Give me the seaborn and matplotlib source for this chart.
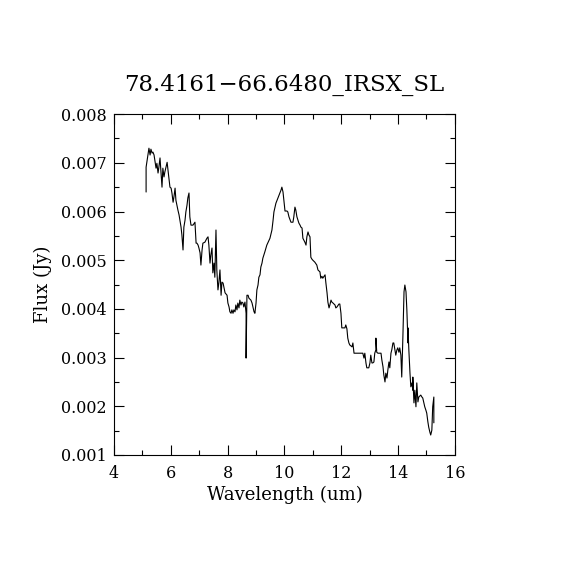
import numpy as np
import pandas as pd
import matplotlib
matplotlib.use("Agg")
import matplotlib.pyplot as plt
import seaborn as sns
from matplotlib.ticker import MultipleLocator

# Spectrum
wavelength = [
    5.13, 5.13, 5.23, 5.27, 5.30, 5.34, 5.37, 5.41, 5.48, 5.51, 5.55, 5.58,
    5.62, 5.65, 5.69, 5.72, 5.76, 5.79, 5.83, 5.87, 5.90, 5.94, 5.97, 6.01,
    6.04, 6.08, 6.11, 6.15, 6.18, 6.25, 6.29, 6.32, 6.36, 6.39, 6.43, 6.46,
    6.50, 6.53, 6.57, 6.60, 6.64, 6.67, 6.71, 6.78, 6.85, 6.89, 6.92, 6.96,
    6.99, 7.03, 7.06, 7.10, 7.13, 7.20, 7.27, 7.31, 7.34, 7.38, 7.41, 7.45,
    7.48, 7.52, 7.55, 7.59, 7.62, 7.66, 7.69, 7.73, 7.77, 7.80, 7.84, 7.91,
    7.98, 8.01, 8.05, 8.08, 8.12, 8.15, 8.19, 8.22, 8.26, 8.29, 8.33, 8.36,
    8.40, 8.43, 8.47, 8.50, 8.54, 8.57, 8.61, 8.65, 8.65, 8.68, 8.72, 8.75,
    8.82, 8.86, 8.93, 8.96, 9.00, 9.03, 9.07, 9.10, 9.14, 9.17, 9.21, 9.24,
    9.31, 9.38, 9.49, 9.56, 9.60, 9.63, 9.70, 9.74, 9.81, 9.88, 9.91, 9.95,
    9.98, 10.02, 10.09, 10.12, 10.16, 10.23, 10.30, 10.33, 10.37, 10.40, 10.44,
    10.51, 10.55, 10.58, 10.62, 10.65, 10.72, 10.76, 10.79, 10.83, 10.86,
    10.90, 10.93, 10.97, 11.00, 11.07, 11.14, 11.18, 11.25, 11.28, 11.32,
    11.35, 11.43, 11.46, 11.50, 11.53, 11.57, 11.60, 11.64, 11.67, 11.71,
    11.78, 11.81, 11.85, 11.92, 11.95, 11.99, 12.02, 12.06, 12.13, 12.16,
    12.20, 12.23, 12.27, 12.30, 12.38, 12.41, 12.45, 12.48, 12.66, 12.76,
    12.80, 12.83, 12.87, 12.90, 12.97, 13.01, 13.04, 13.08, 13.11, 13.15,
    13.18, 13.22, 13.22, 13.25, 13.29, 13.36, 13.40, 13.43, 13.47, 13.50,
    13.54, 13.57, 13.61, 13.64, 13.68, 13.71, 13.75, 13.78, 13.82, 13.85,
    13.89, 13.92, 13.96, 13.99, 14.03, 14.06, 14.10, 14.13, 14.17, 14.21,
    14.24, 14.28, 14.31, 14.35, 14.35, 14.38, 14.42, 14.45, 14.49, 14.52,
    14.52, 14.56, 14.59, 14.63, 14.66, 14.70, 14.73, 14.80, 14.84, 14.87,
    14.91, 14.94, 14.98, 15.01, 15.05, 15.08, 15.12, 15.15, 15.19, 15.22,
    15.26, 15.26,
]
flux = [
    0.00640, 0.00691, 0.00730, 0.00716, 0.00728, 0.00720, 0.00722, 0.00716,
    0.00689, 0.00699, 0.00679, 0.00691, 0.00710, 0.00685, 0.00650, 0.00689,
    0.00671, 0.00681, 0.00691, 0.00701, 0.00685, 0.00665, 0.00650, 0.00648,
    0.00638, 0.00619, 0.00630, 0.00648, 0.00623, 0.00603, 0.00593, 0.00582,
    0.00568, 0.00552, 0.00521, 0.00568, 0.00582, 0.00599, 0.00613, 0.00628,
    0.00638, 0.00589, 0.00572, 0.00572, 0.00578, 0.00535, 0.00535, 0.00531,
    0.00525, 0.00515, 0.00490, 0.00521, 0.00535, 0.00537, 0.00545, 0.00548,
    0.00531, 0.00494, 0.00511, 0.00525, 0.00474, 0.00494, 0.00465, 0.00562,
    0.00480, 0.00439, 0.00453, 0.00480, 0.00428, 0.00455, 0.00453, 0.00433,
    0.00428, 0.00412, 0.00404, 0.00394, 0.00391, 0.00398, 0.00391, 0.00398,
    0.00394, 0.00408, 0.00398, 0.00412, 0.00402, 0.00418, 0.00408, 0.00414,
    0.00412, 0.00404, 0.00414, 0.00391, 0.00299, 0.00428, 0.00428, 0.00422,
    0.00418, 0.00412, 0.00394, 0.00391, 0.00412, 0.00439, 0.00449, 0.00465,
    0.00470, 0.00486, 0.00494, 0.00504, 0.00517, 0.00531, 0.00545, 0.00562,
    0.00582, 0.00599, 0.00617, 0.00623, 0.00634, 0.00644, 0.00650, 0.00640,
    0.00623, 0.00601, 0.00601, 0.00599, 0.00589, 0.00578, 0.00578, 0.00589,
    0.00609, 0.00603, 0.00589, 0.00576, 0.00572, 0.00568, 0.00566, 0.00545,
    0.00537, 0.00531, 0.00548, 0.00558, 0.00552, 0.00548, 0.00506, 0.00502,
    0.00500, 0.00496, 0.00490, 0.00480, 0.00476, 0.00463, 0.00467, 0.00463,
    0.00470, 0.00453, 0.00433, 0.00414, 0.00402, 0.00408, 0.00418, 0.00414,
    0.00412, 0.00408, 0.00402, 0.00404, 0.00410, 0.00410, 0.00391, 0.00361,
    0.00361, 0.00361, 0.00367, 0.00359, 0.00340, 0.00330, 0.00326, 0.00322,
    0.00330, 0.00309, 0.00309, 0.00309, 0.00309, 0.00299, 0.00309, 0.00289,
    0.00279, 0.00279, 0.00289, 0.00305, 0.00289, 0.00289, 0.00291, 0.00309,
    0.00316, 0.00340, 0.00311, 0.00309, 0.00309, 0.00309, 0.00295, 0.00281,
    0.00264, 0.00250, 0.00268, 0.00258, 0.00274, 0.00291, 0.00279, 0.00309,
    0.00316, 0.00330, 0.00330, 0.00316, 0.00305, 0.00316, 0.00320, 0.00311,
    0.00320, 0.00305, 0.00260, 0.00342, 0.00435, 0.00449, 0.00435, 0.00398,
    0.00330, 0.00361, 0.00316, 0.00268, 0.00240, 0.00248, 0.00233, 0.00260,
    0.00207, 0.00233, 0.00199, 0.00248, 0.00209, 0.00219, 0.00223, 0.00219,
    0.00217, 0.00207, 0.00199, 0.00192, 0.00186, 0.00168, 0.00157, 0.00147,
    0.00141, 0.00151, 0.00199, 0.00219, 0.00166,
]

title = "78.4161\u221266.6480_IRSX_SL"

df = pd.DataFrame({"wave": wavelength, "flux": flux})

sns.set_theme(style="ticks")
plt.rcParams["font.family"] = ["DejaVu Serif"]
plt.rcParams["text.color"] = "black"
plt.rcParams["axes.labelcolor"] = "black"

fig = plt.figure(figsize=(5.7, 5.7), dpi=100)
ax = fig.add_axes([0.2, 0.2018, 0.598, 0.598])

sns.lineplot(data=df, x="wave", y="flux", ax=ax, color="black", lw=0.8,
             estimator=None, sort=False)

ax.set_xlim(4, 16)
ax.set_ylim(0.001, 0.008)
ax.xaxis.set_major_locator(MultipleLocator(2))
ax.xaxis.set_minor_locator(MultipleLocator(1))
ax.yaxis.set_major_locator(MultipleLocator(0.001))
ax.yaxis.set_minor_locator(MultipleLocator(0.0005))
ax.yaxis.set_major_formatter(matplotlib.ticker.FormatStrFormatter("%.3f"))

ax.tick_params(which="both", direction="in", top=True, right=True,
               width=0.8, colors="black")
ax.tick_params(which="major", length=7, labelsize=11.5)
ax.tick_params(which="minor", length=3.5)
ax.tick_params(axis="x", pad=7)
ax.tick_params(axis="y", pad=5)
for s in ax.spines.values():
    s.set_linewidth(0.8)
    s.set_color("black")

ax.set_xlabel("Wavelength (um)", fontsize=13, labelpad=3)
ax.set_ylabel("Flux (Jy)", fontsize=13, labelpad=7)
ax.set_title(title, fontsize=16.5, pad=17)

fig.savefig("out.png", dpi=100, facecolor="white")
